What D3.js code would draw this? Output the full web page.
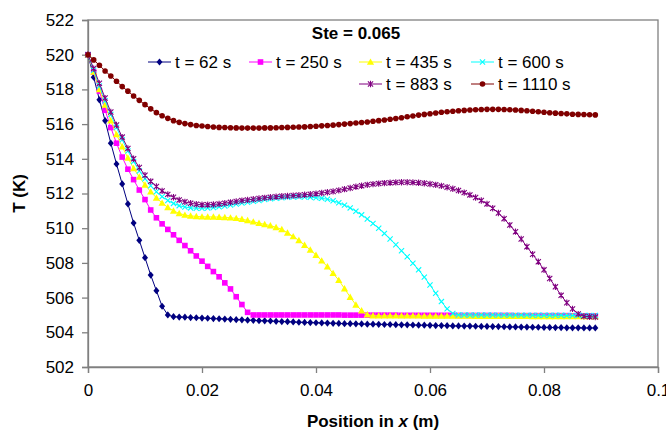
<!DOCTYPE html>
<meta charset="utf-8"/>
<style>
    html, body {
        margin: 0;
        padding: 0;
        background: #fff;
    }

    text {
        font-family: "Liberation Sans", Arial, sans-serif;
        fill: #000;
    }

    .tick text {
        font-size: 17px;
    }
</style>
<body>
<svg width="666" height="432"></svg>
</body>
<script src="https://d3js.org/d3.v7.min.js"></script>
<script>

  // positions along the bar (m), one sample every mm
  var pos = [0, 0.001, 0.002, 0.003, 0.004, 0.005, 0.006, 0.007, 0.008, 0.009,
    0.010, 0.011, 0.012, 0.013, 0.014, 0.015, 0.016, 0.017, 0.018, 0.019,
    0.020, 0.021, 0.022, 0.023, 0.024, 0.025, 0.026, 0.027, 0.028, 0.029,
    0.030, 0.031, 0.032, 0.033, 0.034, 0.035, 0.036, 0.037, 0.038, 0.039,
    0.040, 0.041, 0.042, 0.043, 0.044, 0.045, 0.046, 0.047, 0.048, 0.049,
    0.050, 0.051, 0.052, 0.053, 0.054, 0.055, 0.056, 0.057, 0.058, 0.059,
    0.060, 0.061, 0.062, 0.063, 0.064, 0.065, 0.066, 0.067, 0.068, 0.069,
    0.070, 0.071, 0.072, 0.073, 0.074, 0.075, 0.076, 0.077, 0.078, 0.079,
    0.080, 0.081, 0.082, 0.083, 0.084, 0.085, 0.086, 0.087, 0.088, 0.089]

  var t62 = [520, 518.7, 517.4, 516.2, 514.9, 513.7, 512.55, 511.4, 510.3, 509.3,
    508.3, 507.3, 506.4, 505.5, 505.0, 504.9, 504.88, 504.87, 504.85, 504.84,
    504.82, 504.81, 504.79, 504.78, 504.76, 504.75, 504.73, 504.72, 504.7, 504.69,
    504.67, 504.66, 504.65, 504.63, 504.62, 504.61, 504.6, 504.58, 504.57, 504.56,
    504.55, 504.54, 504.53, 504.52, 504.51, 504.5, 504.5, 504.49, 504.48, 504.47,
    504.47, 504.46, 504.45, 504.45, 504.44, 504.43, 504.43, 504.42, 504.41, 504.41,
    504.4, 504.39, 504.39, 504.38, 504.37, 504.37, 504.36, 504.36, 504.35, 504.34,
    504.34, 504.33, 504.33, 504.32, 504.31, 504.31, 504.3, 504.3, 504.29, 504.29,
    504.28, 504.28, 504.27, 504.27, 504.26, 504.26, 504.26, 504.25, 504.25, 504.25]

  var t250 = [520, 519.0, 517.9, 516.8, 515.8, 514.9, 514.1, 513.4, 512.8, 512.2,
    511.65, 511.05, 510.6, 510.25, 509.93, 509.62, 509.3, 509.0, 508.7, 508.4,
    508.1, 507.8, 507.5, 507.2, 506.85, 506.5, 506.05, 505.6, 505.15, 505.0,
    505.0, 505.0, 505.0, 505.0, 505.0, 505.0, 505.0, 505.0, 505.0, 505.0,
    505.0, 505.0, 505.0, 505.0, 505.0, 504.99, 504.99, 504.99, 504.99, 504.99,
    504.99, 504.99, 504.99, 504.99, 504.99, 504.98, 504.98, 504.98, 504.98, 504.98,
    504.98, 504.98, 504.98, 504.98, 504.98, 504.97, 504.97, 504.97, 504.97, 504.97,
    504.97, 504.97, 504.97, 504.97, 504.97, 504.96, 504.96, 504.96, 504.96, 504.96,
    504.96, 504.96, 504.96, 504.96, 504.96, 504.95, 504.95, 504.95, 504.95, 504.95]

  var t435 = [520, 519.0, 518.0, 517.1, 516.2, 515.4, 514.7, 514.05, 513.45, 512.95,
    512.5, 512.1, 511.75, 511.45, 511.2, 511.0, 510.85, 510.76, 510.71, 510.68,
    510.66, 510.65, 510.65, 510.64, 510.62, 510.6, 510.57, 510.52, 510.45, 510.37,
    510.29, 510.22, 510.15, 510.05, 509.93, 509.73, 509.52, 509.3, 509.02, 508.75,
    508.45, 508.12, 507.78, 507.4, 507.0, 506.52, 506.03, 505.58, 505.25, 505.02,
    504.96, 504.95, 504.95, 504.95, 504.95, 504.95, 504.95, 504.95, 504.95, 504.94,
    504.94, 504.94, 504.94, 504.94, 504.94, 504.94, 504.94, 504.94, 504.93, 504.93,
    504.93, 504.93, 504.93, 504.93, 504.93, 504.93, 504.93, 504.93, 504.92, 504.92,
    504.92, 504.92, 504.92, 504.92, 504.92, 504.92, 504.92, 504.92, 504.92, 504.92]

  var t600 = [520, 519.1, 518.2, 517.35, 516.55, 515.8, 515.1, 514.45, 513.85, 513.3,
    512.85, 512.45, 512.1, 511.82, 511.6, 511.43, 511.3, 511.22, 511.17, 511.15,
    511.15, 511.16, 511.19, 511.23, 511.28, 511.33, 511.39, 511.45, 511.5, 511.55,
    511.6, 511.65, 511.69, 511.73, 511.76, 511.79, 511.8, 511.81, 511.8, 511.79,
    511.76, 511.72, 511.67, 511.58, 511.47, 511.33, 511.17, 510.98, 510.77, 510.53,
    510.27, 510.0, 509.7, 509.38, 509.05, 508.7, 508.35, 507.98, 507.6, 507.18,
    506.73, 506.25, 505.77, 505.35, 505.08, 505.0, 505.0, 505.0, 505.0, 505.0,
    505.0, 505.0, 504.99, 504.99, 504.99, 504.99, 504.99, 504.99, 504.98, 504.98,
    504.98, 504.98, 504.98, 504.98, 504.97, 504.97, 504.97, 504.97, 504.97, 504.97]

  var t883 = [520, 519.2, 518.35, 517.5, 516.7, 515.95, 515.25, 514.6, 514.0, 513.5,
    513.05, 512.7, 512.4, 512.15, 511.95, 511.78, 511.63, 511.52, 511.44, 511.38,
    511.35, 511.35, 511.37, 511.4, 511.44, 511.49, 511.54, 511.59, 511.63, 511.67,
    511.71, 511.75, 511.78, 511.81, 511.84, 511.86, 511.88, 511.9, 511.93, 511.96,
    511.99, 512.03, 512.07, 512.12, 512.18, 512.25, 512.32, 512.39, 512.45, 512.5,
    512.54, 512.57, 512.6, 512.62, 512.64, 512.65, 512.65, 512.64, 512.62, 512.59,
    512.55, 512.5, 512.44, 512.36, 512.27, 512.17, 512.05, 511.92, 511.77, 511.6,
    511.4, 511.15, 510.88, 510.55, 510.18, 509.8, 509.38, 508.93, 508.5, 508.07,
    507.6, 507.1, 506.62, 506.13, 505.7, 505.35, 505.05, 504.92, 504.9, 504.88]

  var t1110 = [520, 519.7, 519.39, 519.06, 518.77, 518.47, 518.16, 517.9, 517.62, 517.37,
    517.12, 516.88, 516.66, 516.48, 516.33, 516.2, 516.1, 516.03, 515.97, 515.92,
    515.89, 515.86, 515.83, 515.81, 515.8, 515.79, 515.78, 515.77, 515.77, 515.77,
    515.77, 515.78, 515.78, 515.79, 515.8, 515.81, 515.82, 515.83, 515.84, 515.86,
    515.88, 515.9, 515.92, 515.94, 515.97, 516.0, 516.03, 516.06, 516.09, 516.12,
    516.16, 516.2, 516.24, 516.28, 516.32, 516.37, 516.42, 516.47, 516.52, 516.56,
    516.6, 516.64, 516.68, 516.71, 516.74, 516.77, 516.79, 516.81, 516.83, 516.84,
    516.85, 516.85, 516.85, 516.84, 516.83, 516.81, 516.79, 516.77, 516.74, 516.71,
    516.68, 516.65, 516.63, 516.61, 516.59, 516.57, 516.56, 516.55, 516.54, 516.53]

  var seriesNames = ["t = 62 s", "t = 250 s", "t = 435 s", "t = 600 s", "t = 883 s", "t = 1110 s"]
  var seriesValues = [t62, t250, t435, t600, t883, t1110]
  var seriesColors = ["#000080", "#ff00ff", "#ffff00", "#00ffff", "#800080", "#800000"]
  var seriesMarkers = ["diamond", "square", "triangle", "x", "star", "circle"]

  var xTicks = [0, 0.02, 0.04, 0.06, 0.08, 0.1]
  var yTicks = [502, 504, 506, 508, 510, 512, 514, 516, 518, 520, 522]

  var svg = d3.select("svg")
  // plot area edges (window.top is read-only, hence the prefixed names)
  var pLeft = 88, pRight = 658, pTop = 20, pBottom = 367

  var x = d3.scaleLinear().domain([0, 0.1]).range([pLeft, pRight])
  var y = d3.scaleLinear().domain([502, 522]).range([pBottom, pTop])

  // plot frame
  svg.append("rect")
    .attr("x", pLeft).attr("y", pTop)
    .attr("width", pRight - pLeft).attr("height", pBottom - pTop)
    .attr("fill", "none")
    .attr("stroke", "#808080")
    .attr("stroke-width", 1.3)

  var yAxis = svg.append("g")
    .attr("transform", "translate(" + pLeft + ",0)")
    .call(d3.axisLeft(y).tickValues(yTicks).tickSize(6).tickPadding(8)
      .tickFormat(d3.format("d")))
  var xAxis = svg.append("g")
    .attr("transform", "translate(0," + pBottom + ")")
    .call(d3.axisBottom(x).tickValues(xTicks).tickSize(6).tickPadding(11)
      .tickFormat(function (d) { return d === 0 ? "0" : String(+d.toFixed(2)) }))

  svg.selectAll(".domain").attr("stroke", "#808080").attr("stroke-width", 1.3)
  svg.selectAll(".tick line").attr("stroke", "#808080").attr("stroke-width", 1.3)
  xAxis.attr("font-family", null).attr("font-size", null)
  yAxis.attr("font-family", null).attr("font-size", null)

  function markerPath(kind) {
    switch (kind) {
      case "diamond": return "M0,-3.6L3,0L0,3.6L-3,0Z"
      case "square": return "M-2.8,-2.8H2.8V2.8H-2.8Z"
      case "triangle": return "M0,-3.6L3.6,2.8H-3.6Z"
      case "x": return "M-2.6,-2.6L2.6,2.6M-2.6,2.6L2.6,-2.6"
      case "star": return "M-2.6,-2.6L2.6,2.6M-2.6,2.6L2.6,-2.6M0,-3.2V3.2"
      case "circle": return "M2.8,0A2.8,2.8 0 1,1 -2.8,0A2.8,2.8 0 1,1 2.8,0Z"
    }
  }

  function styleMarker(sel, i) {
    var stroked = seriesMarkers[i] === "x" || seriesMarkers[i] === "star"
    sel.attr("d", markerPath(seriesMarkers[i]))
      .attr("fill", stroked ? "none" : seriesColors[i])
      .attr("stroke", stroked ? seriesColors[i] : "none")
      .attr("stroke-width", 1.1)
  }

  var line = d3.line()
    .x(function (d) { return x(d[0]) })
    .y(function (d) { return y(d[1]) })

  seriesValues.forEach(function (vals, i) {
    var pts = pos.map(function (p, k) { return [p, vals[k]] })
    var g = svg.append("g")
    g.append("path")
      .datum(pts)
      .attr("d", line)
      .attr("fill", "none")
      .attr("stroke", seriesColors[i])
      .attr("stroke-width", 1)
    g.selectAll("path.mk")
      .data(pts)
      .enter().append("path")
      .attr("class", "mk")
      .attr("transform", function (d) { return "translate(" + x(d[0]) + "," + y(d[1]) + ")" })
      .call(styleMarker, i)
  })

  // legend
  var legendPos = [[148, 62], [249, 62], [359, 62], [471, 62], [359, 84], [471, 84]]
  seriesNames.forEach(function (name, i) {
    var lg = svg.append("g")
      .attr("transform", "translate(" + legendPos[i][0] + "," + legendPos[i][1] + ")")
    lg.append("line")
      .attr("x1", 0).attr("x2", 23)
      .attr("stroke", seriesColors[i]).attr("stroke-width", 1)
    lg.append("path")
      .attr("transform", "translate(11.5,0)")
      .call(styleMarker, i)
    lg.append("text")
      .attr("x", 27).attr("y", 6)
      .style("font-size", "17px")
      .text(name)
  })

  svg.append("text")
    .attr("x", 356).attr("y", 39)
    .attr("text-anchor", "middle")
    .style("font-size", "17px")
    .style("font-weight", "bold")
    .text("Ste = 0.065")

  svg.append("text")
    .attr("transform", "translate(25," + ((pTop + pBottom) / 2) + ") rotate(-90)")
    .attr("text-anchor", "middle")
    .style("font-size", "17px")
    .style("font-weight", "bold")
    .text("T (K)")

  var xt = svg.append("text")
    .attr("x", (pLeft + pRight) / 2).attr("y", 427)
    .attr("text-anchor", "middle")
    .style("font-size", "17px")
    .style("font-weight", "bold")
  xt.append("tspan").text("Position in ")
  xt.append("tspan").style("font-style", "italic").text("x")
  xt.append("tspan").text(" (m)")

</script>
